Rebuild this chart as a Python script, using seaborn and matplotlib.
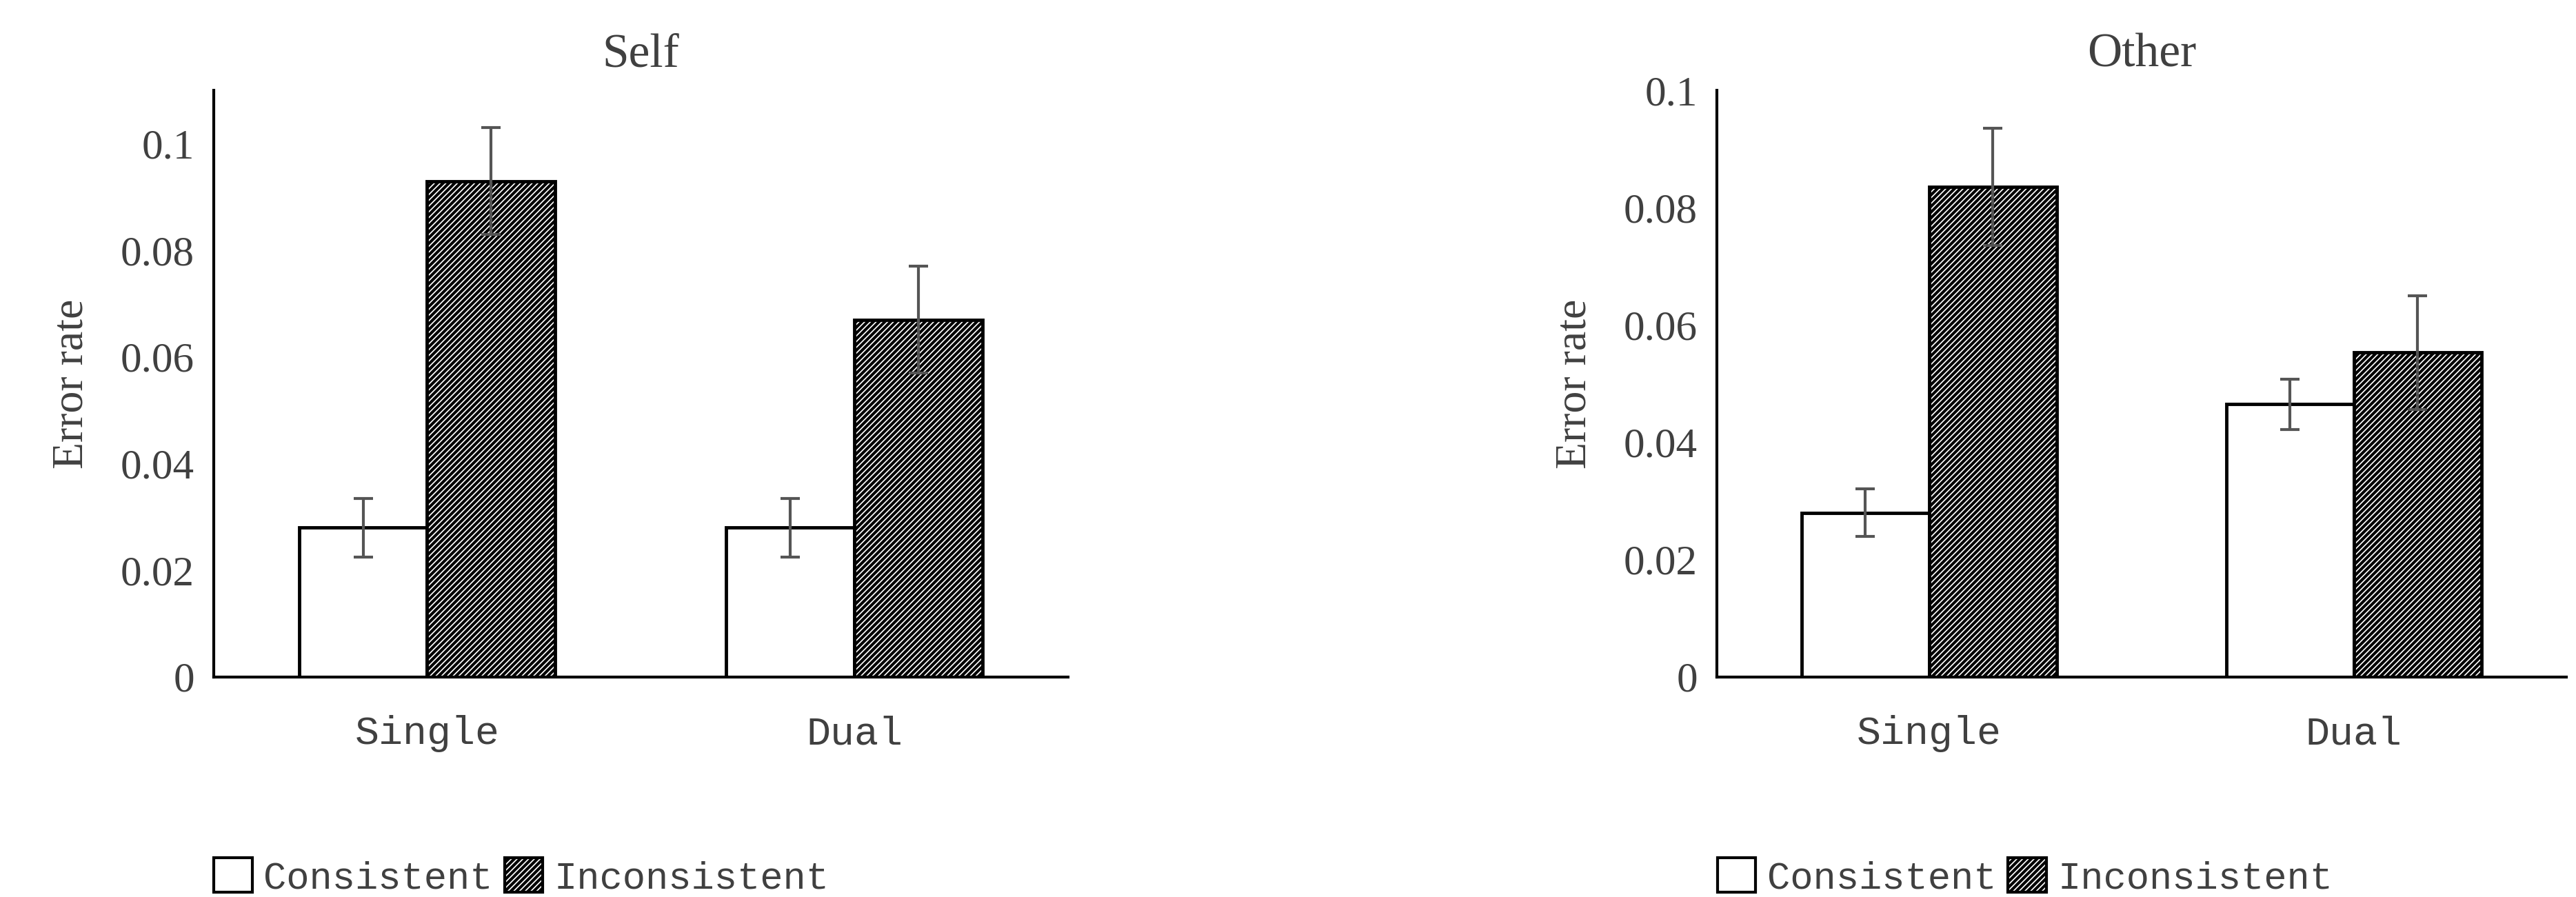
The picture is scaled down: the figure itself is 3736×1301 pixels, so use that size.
import numpy as np
import pandas as pd
import matplotlib
matplotlib.use("Agg")
import matplotlib.pyplot as plt
import seaborn as sns
from matplotlib.patches import Patch

# data
tasks = ["Single", "Dual"]
conditions = ["Consistent", "Inconsistent"]
self_vals = [[0.028, 0.093], [0.028, 0.067]]
self_err = [[0.0055, 0.010], [0.0055, 0.010]]
other_vals = [[0.028, 0.0835], [0.0465, 0.0553]]
other_err = [[0.004, 0.010], [0.0043, 0.0097]]

sns.set_theme(style="white")
plt.rcParams["font.family"] = ["Liberation Serif", "DejaVu Serif"]
plt.rcParams["hatch.linewidth"] = 3.0
plt.rcParams["hatch.color"] = "black"

fig = plt.figure(figsize=(37.36, 13.01), dpi=100)
ax1 = fig.add_axes([130 / 1568, (546 - 412) / 546, 520 / 1568, 357 / 546])
ax2 = fig.add_axes([1045 / 1568, (546 - 412) / 546, 517 / 1568, 357 / 546])


def panel(ax, vals, errs, title, ymax, yticks):
    df = pd.DataFrame([(t, c, vals[i][j]) for i, t in enumerate(tasks)
                       for j, c in enumerate(conditions)],
                      columns=["task", "cond", "rate"])
    sns.barplot(data=df, x="task", y="rate", hue="cond", hue_order=conditions,
                order=tasks, width=0.6, palette=["white", "white"],
                edgecolor="black", linewidth=3.5, errorbar=None, ax=ax, legend=False)
    # bars are ordered by hue then task
    for k, bar in enumerate(ax.patches[:4]):
        j, i = divmod(k, 2)
        if j == 1:
            bar.set_hatch("////")
        x = bar.get_x() + bar.get_width() / 2
        ax.errorbar(x, vals[i][j], yerr=errs[i][j], color="#555555",
                    elinewidth=3, capsize=10, capthick=3)
    ax.set_ylim(0, ymax)
    ax.set_xlim(-0.5, 1.5)
    ax.set_yticks(yticks)
    ax.set_yticklabels([f"{v:g}" for v in yticks], fontsize=44, color="#404040")
    ax.set_xticklabels(tasks, fontsize=42, color="#404040", family="Liberation Mono")
    ax.tick_params(axis="x", pad=40, length=0)
    ax.tick_params(axis="y", pad=20, length=0)
    ax.set_xlabel("")
    ax.set_ylabel("Error rate", fontsize=46, color="#404040", labelpad=30)
    ax.set_title(title, fontsize=50, color="#404040", pad=25)
    for s in ["top", "right"]:
        ax.spines[s].set_visible(False)
    for s in ["left", "bottom"]:
        ax.spines[s].set_color("black")
        ax.spines[s].set_linewidth(3)
    handles = [Patch(facecolor="white", edgecolor="black", linewidth=3),
               Patch(facecolor="white", edgecolor="black", linewidth=3, hatch="////")]
    leg = ax.legend(handles, conditions, loc="upper left", bbox_to_anchor=(-0.04, -0.25),
                    ncol=2, frameon=False, handlelength=1.0, handleheight=1.0,
                    handletextpad=0.3, columnspacing=0.3,
                    prop={"family": "Liberation Mono", "size": 40})
    for t in leg.get_texts():
        t.set_color("#404040")


panel(ax1, self_vals, self_err, "Self", 0.11, [0, 0.02, 0.04, 0.06, 0.08, 0.1])
panel(ax2, other_vals, other_err, "Other", 0.1, [0, 0.02, 0.04, 0.06, 0.08, 0.1])

fig.savefig("out.png", dpi=100, facecolor="white")
